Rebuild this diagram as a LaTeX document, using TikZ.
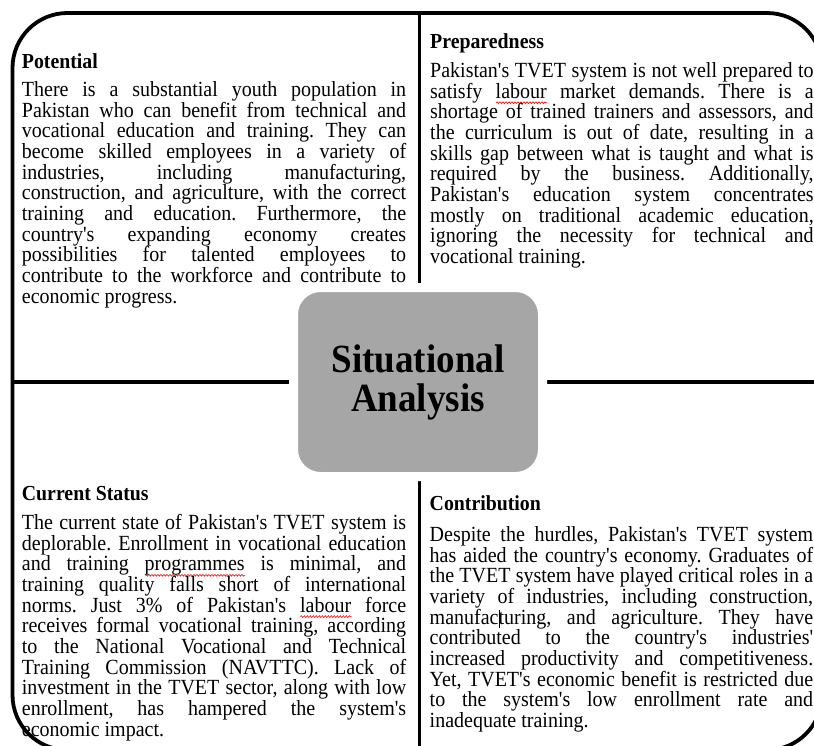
\documentclass[tikz,border=0pt]{standalone}
\usepackage{fontspec}
\setmainfont{Liberation Serif}[Ligatures=TeXOff, FakeStretch=0.926]
\usetikzlibrary{decorations.pathmorphing}
\definecolor{hubgray}{HTML}{A6A6A6}
\frenchspacing
\newlength\wavew
\newcommand\spellwave[1]{\settowidth\wavew{#1}\rlap{\raisebox{-4.5pt}[0pt][0pt]{\tikz[x=1pt,y=1pt,baseline=0pt]{\draw[red,line width=0.6pt,decorate,decoration={snake,amplitude=0.9pt,segment length=3pt}] (0,0) -- (\wavew,0);}}}#1}
\newlength\colw
\newcommand\jl[1]{\hbox to \colw{#1}}
\newcommand\lastl[1]{\hbox to \colw{#1\hfil}}
\newcommand\bodytext[2]{\vtop{\colw=#1\relax\baselineskip=20.65pt\lineskiplimit=-100pt\lineskip=0pt #2}}
\begin{document}
\begin{tikzpicture}[x=1pt,y=-1pt,
  frame/.style={line width=3.8pt, draw=black},
  ttl/.style={anchor=base west, inner sep=0pt, font=\fontsize{21.4}{24}\selectfont\bfseries},
  body/.style={anchor=base west, inner sep=0pt, font=\fontsize{21.6}{20.65}\selectfont},
  hub/.style={rounded corners=27pt, fill=hubgray, draw=white, line width=9pt,
    minimum width=249pt, minimum height=189pt, align=center, inner sep=0pt,
    font=\fontsize{40}{39}\selectfont\bfseries}]
\useasboundingbox (0,0) rectangle (814,745);
\begin{scope}
  \clip (0,0) rectangle (814,745);
  \draw[frame, rounded corners=55pt] (12.5,13) rectangle (822,750);
  \coordinate (vt) at (419.5,13);
  \coordinate (vb) at (419.5,750);
  \coordinate (hl) at (12.5,382);
  \coordinate (hr) at (822,382);
  \draw[frame] (vt) -- (vb);
  \draw[frame] (hl) -- (hr);
\end{scope}
\node[hub] (hub) at (418,382) {Situational\\Analysis};

% Potential
\node[ttl] (tpot) at (21.7,68.3) {Potential};
\node[body] (bpot) at (21.7,96.5) {\bodytext{384.3pt}{%
\jl{There is a substantial youth population in}
\jl{Pakistan who can benefit from technical and}
\jl{vocational education and training. They can}
\jl{become skilled employees in a variety of}
\jl{industries, including manufacturing,}
\jl{construction, and agriculture, with the correct}
\jl{training and education. Furthermore, the}
\jl{country's expanding economy creates}
\jl{possibilities for talented employees to}
\jl{contribute to the workforce and contribute to}
\lastl{economic progress.}}};

% Preparedness
\node[ttl] (tprep) at (430,48.8) {Preparedness};
\node[body] (bprep) at (430,77.5) {\bodytext{383.5pt}{%
\jl{Pakistan's TVET system is not well prepared to}
\jl{satisfy \spellwave{labour} market demands. There is a}
\jl{shortage of trained trainers and assessors, and}
\jl{the curriculum is out of date, resulting in a}
\jl{skills gap between what is taught and what is}
\jl{required by the business. Additionally,}
\jl{Pakistan's education system concentrates}
\jl{mostly on traditional academic education,}
\jl{ignoring the necessity for technical and}
\lastl{vocational training.}}};

% Current Status
\node[ttl] (tcur) at (21.7,500.7) {Current Status};
\node[body] (bcur) at (21.7,529.5) {\bodytext{384.3pt}{%
\jl{The current state of Pakistan's TVET system is}
\jl{deplorable. Enrollment in vocational education}
\jl{and training \spellwave{programmes} is minimal, and}
\jl{training quality falls short of international}
\jl{norms. Just 3\% of Pakistan's \spellwave{labour} force}
\jl{receives formal vocational training, according}
\jl{to the National Vocational and Technical}
\jl{Training Commission (NAVTTC). Lack of}
\jl{investment in the TVET sector, along with low}
\jl{enrollment, has hampered the system's}
\lastl{economic impact.}}};

% Contribution
\node[ttl] (tcon) at (429.5,510.7) {Contribution};
\node[body] (bcon) at (429.5,541.5) {\bodytext{383.5pt}{%
\jl{Despite the hurdles, Pakistan's TVET system}
\jl{has aided the country's economy. Graduates of}
\jl{the TVET system have played critical roles in a}
\jl{variety of industries, including construction,}
\jl{manufac\smash{\rlap{\rule[-4pt]{0.8pt}{18pt}}}turing, and agriculture. They have}
\jl{contributed to the country's industries'}
\jl{increased productivity and competitiveness.}
\jl{Yet, TVET's economic benefit is restricted due}
\jl{to the system's low enrollment rate and}
\lastl{inadequate training.}}};
\end{tikzpicture}
\end{document}
